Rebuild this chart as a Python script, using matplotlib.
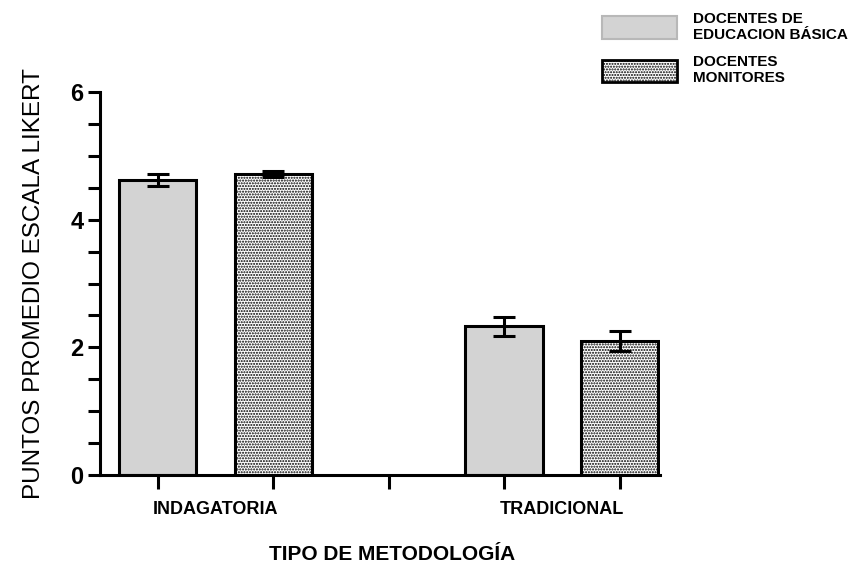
import matplotlib.pyplot as plt
from matplotlib.patches import Patch
from matplotlib.ticker import MultipleLocator

# datos
metodologias = ["INDAGATORIA", "TRADICIONAL"]
grupos = ["DOCENTES DE\nEDUCACION BÁSICA", "DOCENTES\nMONITORES"]
media_basica = [4.62, 2.33]
error_basica = [0.09, 0.15]
media_monitores = [4.72, 2.10]
error_monitores = [0.05, 0.15]

plt.rcParams['font.family'] = ['Liberation Sans', 'DejaVu Sans']
plt.rcParams['hatch.linewidth'] = 1.0

fig = plt.figure(figsize=(8.64, 5.7), dpi=100)
ax = fig.add_axes([100 / 864, 95 / 570, 560 / 864, 383 / 570])

pos_basica = [0, 3]
pos_monitores = [1, 4]
ancho = 0.67
lw = 2.2

ax.bar(pos_basica, media_basica, ancho, color='#d3d3d3', edgecolor='black',
       linewidth=lw, zorder=2)
ax.bar(pos_monitores, media_monitores, ancho, color='white', edgecolor='black',
       hatch='......', linewidth=lw, zorder=2)
ax.errorbar(pos_basica, media_basica, yerr=error_basica, fmt='none', ecolor='black',
            elinewidth=lw, capsize=8, capthick=lw, zorder=3)
ax.errorbar(pos_monitores, media_monitores, yerr=error_monitores, fmt='none', ecolor='black',
            elinewidth=lw, capsize=8, capthick=lw, zorder=3)

ax.set_xlim(-0.5, 4.35)
ax.set_ylim(0, 6)
ax.set_xticks([0, 1, 2, 3, 4])
ax.set_xticklabels([])
ax.set_yticks([0, 2, 4, 6])
ax.set_yticklabels(['0', '2', '4', '6'], fontsize=17, fontweight='bold')
ax.yaxis.set_minor_locator(MultipleLocator(0.5))
ax.tick_params(axis='x', length=10, width=lw)
ax.tick_params(axis='y', which='major', length=9, width=lw, pad=3)
ax.tick_params(axis='y', which='minor', length=9, width=lw)

for lado in ['top', 'right']:
    ax.spines[lado].set_visible(False)
for lado in ['left', 'bottom']:
    ax.spines[lado].set_linewidth(lw)

for x, nombre in zip([0.5, 3.5], metodologias):
    ax.text(x, -0.4, nombre, ha='center', va='top', fontsize=13, fontweight='bold')

ax.set_ylabel("PUNTOS PROMEDIO ESCALA LIKERT", fontsize=17.5, labelpad=18)
fig.text(392 / 864, 1 - 555 / 570, "TIPO DE METODOLOGÍA", ha='center', va='center',
         fontsize=15, fontweight='bold')

proxies = [Patch(facecolor='#d3d3d3', edgecolor='#b8b8b8', linewidth=1.5),
           Patch(facecolor='white', edgecolor='black', hatch='......', linewidth=2)]
fig.legend(handles=proxies, labels=grupos, loc='upper left',
           bbox_to_anchor=(588 / 864, 1.003), frameon=False,
           prop={'size': 11, 'weight': 'bold'}, handlelength=4.9,
           handleheight=1.9, labelspacing=0.85, handletextpad=1.1)

fig.savefig("out.png", dpi=100)
